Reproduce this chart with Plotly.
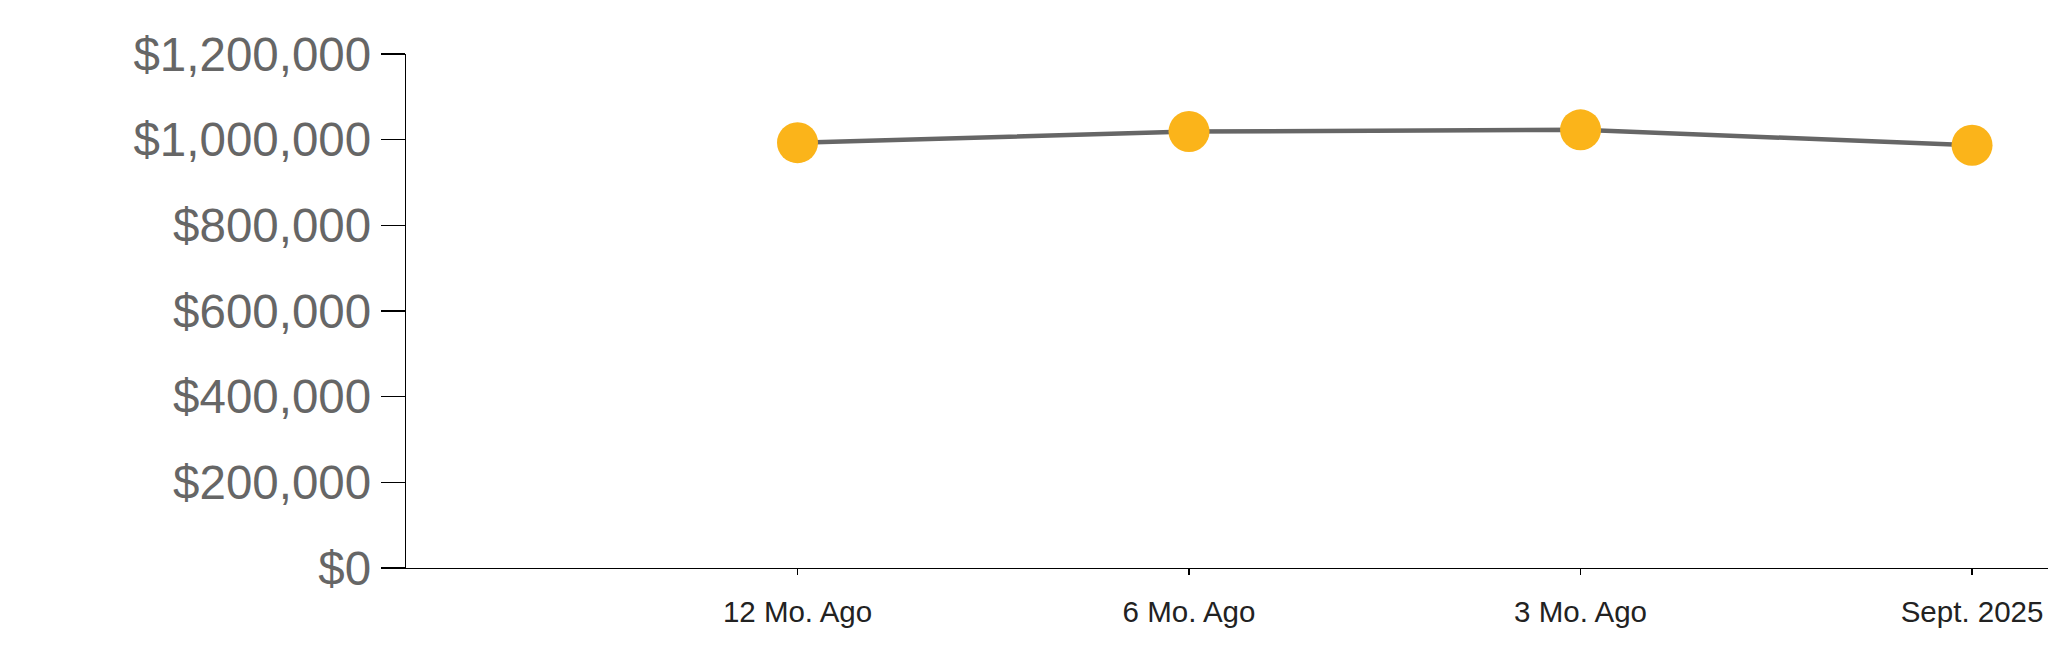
import plotly.graph_objects as go

categories = ["12 Mo. Ago", "6 Mo. Ago", "3 Mo. Ago", "Sept. 2025"]
values = [993000, 1019000, 1023000, 987000]
y_ticks = [0, 200000, 400000, 600000, 800000, 1000000, 1200000]
y_tick_labels = ["$0", "$200,000", "$400,000", "$600,000", "$800,000", "$1,000,000", "$1,200,000"]

fig = go.Figure()
fig.add_trace(go.Scatter(
    x=categories, y=values, mode="lines+markers",
    line=dict(color="#666666", width=4.5),
    marker=dict(color="#FBB41A", size=41, line=dict(width=0)),
    hoverinfo="skip", showlegend=False, cliponaxis=False,
))

fig.update_layout(
    width=2048, height=663,
    margin=dict(l=406, r=0, t=54, b=95, pad=0),
    paper_bgcolor="white", plot_bgcolor="white",
    font=dict(family="Liberation Sans, Arial, sans-serif"),
)
fig.update_xaxes(
    type="category", range=[-1, 3.194],
    showgrid=False, zeroline=False,
    showline=True, linecolor="#000000", linewidth=1.3,
    ticks="outside", ticklen=6, tickcolor="#000000", tickwidth=1.3,
    tickfont=dict(size=29.5, color="#222222"),
    ticklabelstandoff=11,
)
fig.update_yaxes(
    range=[0, 1200000],
    tickvals=y_ticks, ticktext=y_tick_labels,
    showgrid=False, zeroline=False,
    showline=True, linecolor="#000000", linewidth=1.3,
    ticks="outside", ticklen=24, tickcolor="#000000", tickwidth=1.3,
    tickfont=dict(size=47.5, color="#666666"),
    ticklabelstandoff=0,
)

fig.write_html("out.html", config={"displayModeBar": False, "staticPlot": True})

with open("out.html", "r", encoding="utf-8") as f:
    html = f.read()
html = html.replace("<head>", "<head><style>html,body{margin:0;padding:0;overflow:hidden;}</style>", 1)
with open("out.html", "w", encoding="utf-8") as f:
    f.write(html)
